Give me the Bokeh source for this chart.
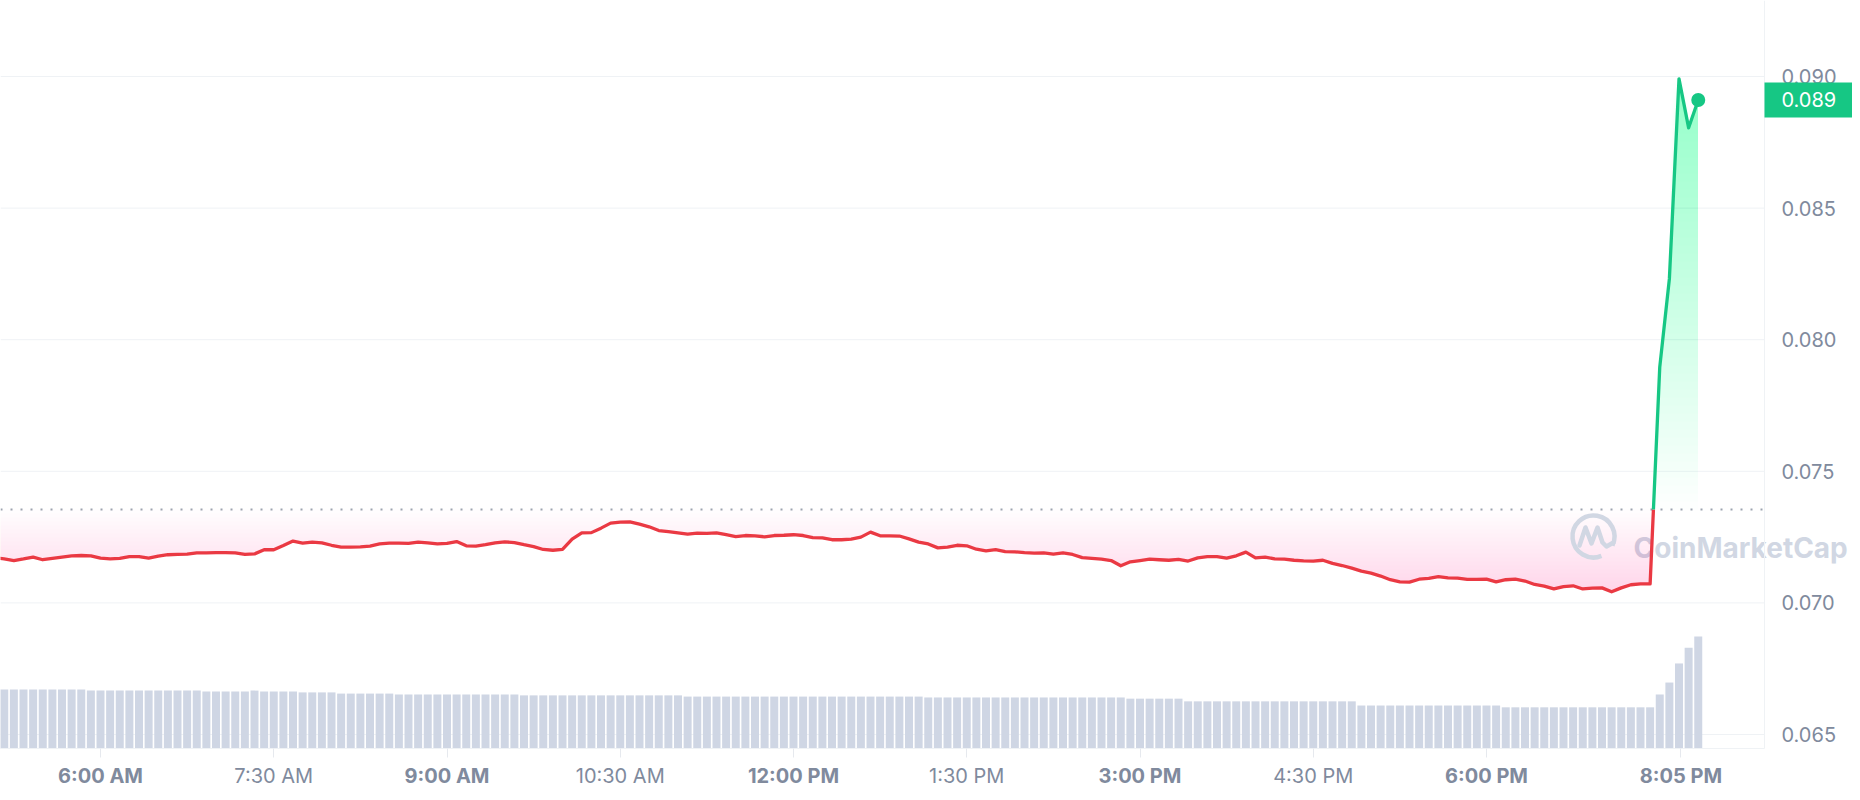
import numpy as np
from bokeh.plotting import figure
from bokeh.models import Range1d, FixedTicker, Label, LinearAxis, BoxAnnotation
from bokeh.embed import file_html
from bokeh.resources import INLINE

# ---------------- data ----------------
# minutes since midnight, one point per 5-minute interval
times = list(range(305, 1191, 5))

prices = [
    0.07172,
    0.07167, 0.07161, 0.07167, 0.07174, 0.07164, 0.07169, 0.07174, 0.07179, 0.07180, 0.07179,
    0.07170, 0.07167, 0.07169, 0.07176, 0.07176, 0.07170, 0.07178, 0.07183, 0.07184, 0.07185,
    0.07190, 0.07190, 0.07191, 0.07191, 0.07190, 0.07184, 0.07186, 0.07202, 0.07202, 0.07218,
    0.07235, 0.07227, 0.07231, 0.07228, 0.07219, 0.07212, 0.07212, 0.07213, 0.07216, 0.07224,
    0.07227, 0.07227, 0.07226, 0.07231, 0.07228, 0.07224, 0.07226, 0.07233, 0.07217, 0.07216,
    0.07221, 0.07228, 0.07232, 0.07229, 0.07221, 0.07214, 0.07203, 0.07200, 0.07203, 0.07242,
    0.07266, 0.07267, 0.07284, 0.07303, 0.07307, 0.07308, 0.07299, 0.07289, 0.07275, 0.07271,
    0.07266, 0.07261, 0.07265, 0.07264, 0.07266, 0.07259, 0.07252, 0.07256, 0.07255, 0.07251,
    0.07256, 0.07257, 0.07259, 0.07256, 0.07248, 0.07247, 0.07240, 0.07240, 0.07242, 0.07250,
    0.07269, 0.07255, 0.07255, 0.07254, 0.07243, 0.07231, 0.07224, 0.07209, 0.07212, 0.07219,
    0.07217, 0.07204, 0.07198, 0.07202, 0.07195, 0.07194, 0.07191, 0.07189, 0.07190, 0.07185,
    0.07190, 0.07184, 0.07172, 0.07169, 0.07166, 0.07161, 0.07141, 0.07156, 0.07161, 0.07166,
    0.07164, 0.07162, 0.07165, 0.07159, 0.07171, 0.07176, 0.07176, 0.07170, 0.07179, 0.07193,
    0.07171, 0.07174, 0.07167, 0.07166, 0.07162, 0.07160, 0.07159, 0.07162, 0.07150, 0.07142,
    0.07132, 0.07121, 0.07113, 0.07102, 0.07088, 0.07080, 0.07079, 0.07090, 0.07093, 0.07100,
    0.07095, 0.07094, 0.07089, 0.07089, 0.07090, 0.07080, 0.07088, 0.07090, 0.07083, 0.07070,
    0.07064, 0.07053, 0.07062, 0.07065, 0.07053, 0.07056, 0.07057, 0.07042, 0.07057, 0.07069,
    0.07072, 0.07072, 0.07896, 0.08231, 0.08991, 0.08805, 0.08911,
]

# volume (millions, arbitrary scale)
volumes = [
    0.99, 0.99, 0.99, 0.99, 0.99, 0.99, 0.99, 0.99, 0.99, 0.99,
    0.97, 0.97, 0.97, 0.97, 0.97, 0.97, 0.97, 0.97, 0.97, 0.97,
    0.97, 0.97, 0.955, 0.955, 0.955, 0.955, 0.955, 0.97, 0.955, 0.955,
    0.955, 0.955, 0.94, 0.94, 0.94, 0.94, 0.92, 0.92, 0.92, 0.92,
    0.92, 0.92, 0.905, 0.905, 0.905, 0.905, 0.905, 0.905, 0.905, 0.905,
    0.905, 0.905, 0.905, 0.905, 0.905, 0.89, 0.89, 0.89, 0.89, 0.89,
    0.89, 0.89, 0.89, 0.89, 0.89, 0.89, 0.89, 0.89, 0.89, 0.89,
    0.89, 0.89, 0.87, 0.87, 0.87, 0.87, 0.87, 0.87, 0.87, 0.87,
    0.87, 0.87, 0.87, 0.87, 0.87, 0.87, 0.87, 0.87, 0.87, 0.87,
    0.87, 0.87, 0.87, 0.87, 0.87, 0.87, 0.87, 0.855, 0.855, 0.855,
    0.855, 0.855, 0.855, 0.855, 0.855, 0.855, 0.855, 0.855, 0.855, 0.855,
    0.855, 0.855, 0.855, 0.855, 0.855, 0.855, 0.855, 0.855, 0.835, 0.835,
    0.835, 0.835, 0.835, 0.835, 0.79, 0.79, 0.79, 0.79, 0.79, 0.79,
    0.79, 0.79, 0.79, 0.79, 0.79, 0.79, 0.79, 0.79, 0.79, 0.79,
    0.79, 0.79, 0.72, 0.72, 0.72, 0.72, 0.72, 0.72, 0.72, 0.72,
    0.72, 0.72, 0.72, 0.72, 0.72, 0.72, 0.72, 0.69, 0.69, 0.69,
    0.69, 0.69, 0.69, 0.69, 0.69, 0.69, 0.69, 0.69, 0.69, 0.69,
    0.69, 0.69, 0.69, 0.905, 1.105, 1.425, 1.69, 1.875,
]

ref_price = 0.07355          # opening price (dotted reference line)
last_price_label = "0.089"

y_ticks = [0.065, 0.070, 0.075, 0.080, 0.085, 0.090]
y_tick_labels = ["0.065", "0.070", "0.075", "0.080", "0.085", "0.090"]

x_ticks_bold = [360, 540, 720, 900, 1080, 1181]
x_labels_bold = ["6:00 AM", "9:00 AM", "12:00 PM", "3:00 PM", "6:00 PM", "8:05 PM"]
x_ticks_light = [450, 630, 810, 990]
x_labels_light = ["7:30 AM", "10:30 AM", "1:30 PM", "4:30 PM"]

# ---------------- layout / style ----------------
RED = "#EA3943"
GREEN = "#16C784"
GREY_TXT = "#808A9D"
GRID = "#EFF2F5"
VOL = "#CFD6E4"
FONT = "Inter"

W, H = 1852, 792
X_LO, X_HI = 308.05, 1270.13      # full canvas width
Y_LO, Y_HI = 0.062796, 0.092888   # full canvas height
X_AX = 1224.42                    # right edge of plotting area (price axis)
Y_AX = 0.064468                   # bottom edge of plotting area (time axis)
xpp = (X_HI - X_LO) / W
ypp = (Y_HI - Y_LO) / H
VOL_PX = 59.68                    # px per volume unit
ax_px = (Y_AX - Y_LO) / ypp       # px between canvas bottom and time axis

p = figure(width=W, height=H,
           x_range=Range1d(X_LO, X_HI), y_range=Range1d(Y_LO, Y_HI),
           x_axis_location=None, y_axis_location=None,
           output_backend="svg", toolbar_location=None,
           min_border_left=0, min_border_top=0, min_border_right=0, min_border_bottom=0)
p.outline_line_color = None
p.background_fill_color = "white"
p.border_fill_color = "white"
p.xgrid.visible = False
p.ygrid.visible = False
p.extra_y_ranges = {"vol": Range1d(-ax_px / VOL_PX, (H - ax_px) / VOL_PX)}

# horizontal grid lines (stop at the price axis)
p.segment(x0=X_LO, x1=X_AX, y0=y_ticks, y1=y_ticks, line_color=GRID, line_width=1)

# price axis (right)
yax = LinearAxis(ticker=FixedTicker(ticks=y_ticks), fixed_location=X_AX,
                 bounds=(Y_AX, Y_HI))
yax.major_label_overrides = {t: l for t, l in zip(y_ticks, y_tick_labels)}
yax.major_tick_in = 0
yax.major_tick_out = 0
yax.major_tick_line_color = None
yax.minor_tick_line_color = None
yax.axis_line_color = GRID
yax.major_label_standoff = 17
yax.major_label_text_font = FONT
yax.major_label_text_font_size = "20px"
yax.major_label_text_color = GREY_TXT
p.add_layout(yax, "right")

# time axis (below) - bold labels, all ticks
xax = LinearAxis(ticker=FixedTicker(ticks=x_ticks_bold + x_ticks_light),
                 fixed_location=Y_AX, bounds=(X_LO, X_AX))
ov = {t: l for t, l in zip(x_ticks_bold, x_labels_bold)}
ov.update({t: "" for t in x_ticks_light})
xax.major_label_overrides = ov
xax.major_tick_in = 0
xax.major_tick_out = 9
xax.major_tick_line_color = "#E6E9EE"
xax.minor_tick_line_color = None
xax.axis_line_color = GRID
xax.major_label_standoff = 7
xax.major_label_text_font = FONT
xax.major_label_text_font_size = "20px"
xax.major_label_text_font_style = "bold"
xax.major_label_text_color = GREY_TXT
p.add_layout(xax, "below")

# time axis - regular weight labels
xax2 = LinearAxis(ticker=FixedTicker(ticks=x_ticks_light),
                  fixed_location=Y_AX, bounds=(X_LO, X_AX))
xax2.major_label_overrides = {t: l for t, l in zip(x_ticks_light, x_labels_light)}
xax2.major_tick_in = 0
xax2.major_tick_out = 9
xax2.major_tick_line_color = None
xax2.minor_tick_line_color = None
xax2.axis_line_color = None
xax2.major_label_standoff = 7
xax2.major_label_text_font = FONT
xax2.major_label_text_font_size = "20px"
xax2.major_label_text_font_style = "normal"
xax2.major_label_text_color = GREY_TXT
p.add_layout(xax2, "below")

# volume bars
p.vbar(x=times, top=volumes, bottom=0, width=4.15, y_range_name="vol",
       fill_color=VOL, line_color=None)

# split price line into below / above reference
pr = np.array(prices, dtype=float)
tt = np.array(times, dtype=float)
i = next(j for j in range(1, len(pr)) if pr[j] > ref_price >= pr[j - 1])
tc = tt[i - 1] + (ref_price - pr[i - 1]) / (pr[i] - pr[i - 1]) * (tt[i] - tt[i - 1])
red_t = np.append(tt[:i], tc)
red_p = np.append(pr[:i], ref_price)
grn_t = np.insert(tt[i:], 0, tc)
grn_p = np.insert(pr[i:], 0, ref_price)

# red gradient fill (deeper = stronger)
step = 4 * ypp
n_red = int((ref_price - red_p.min()) / step) + 1
for j in range(n_red):
    L = ref_price - j * step
    p.varea(x=red_t, y1=np.full_like(red_p, L), y2=np.minimum(red_p, L),
            fill_color=RED, fill_alpha=0.006)

# green gradient fill (higher = stronger)
step_g = 8 * ypp
n_g = int((grn_p.max() - ref_price) / step_g) + 1
for j in range(n_g):
    L = ref_price + j * step_g
    p.varea(x=grn_t, y1=np.full_like(grn_p, L), y2=np.maximum(grn_p, L),
            fill_color=GREEN, fill_alpha=0.0072)

# watermark
WM = "#D1D7E3"
lx = X_LO + 1593 * xpp
ly = Y_HI - 536 * ypp
p.arc(x=[lx], y=[ly], radius=21, radius_units="screen",
      start_angle=-0.45, end_angle=5.1, line_color=WM, line_width=4.5)
wave = [(-14, 9), (-8, -9), (-2, 7), (4, -9), (9, 6), (13, 10), (20, 6)]
p.line(x=[lx + dx * xpp for dx, dy in wave], y=[ly - dy * ypp for dx, dy in wave],
       line_color=WM, line_width=4.5, line_join="round", line_cap="round")
p.add_layout(Label(x=X_LO + 1633 * xpp, y=Y_HI - 547 * ypp,
                   text="CoinMarketCap", text_font=FONT, text_font_size="28px",
                   text_font_style="bold", text_color=WM, text_baseline="alphabetic",
                   level="underlay"))

# reference dotted line
p.segment(x0=[X_LO], x1=[X_AX], y0=[ref_price], y1=[ref_price],
          line_color="#9CA3AF", line_width=2, line_dash="2 8")

# price lines
p.line(red_t, red_p, line_color=RED, line_width=3.3, line_join="round")
p.line(grn_t, grn_p, line_color=GREEN, line_width=3.3, line_join="round")
p.scatter([times[-1]], [prices[-1]], size=14, fill_color=GREEN, line_color=None)

# last price tag
half = 17.5 * ypp
p.add_layout(BoxAnnotation(left=X_AX, right=X_HI, bottom=prices[-1] - half,
                           top=prices[-1] + half, fill_color=GREEN, fill_alpha=1.0,
                           line_color=None))
p.add_layout(Label(x=X_AX, y=prices[-1], text=last_price_label, x_offset=17,
                   text_align="left", text_baseline="middle", text_color="white",
                   text_font=FONT, text_font_size="20px"))

open("out.html", "w").write(file_html(p, INLINE))
